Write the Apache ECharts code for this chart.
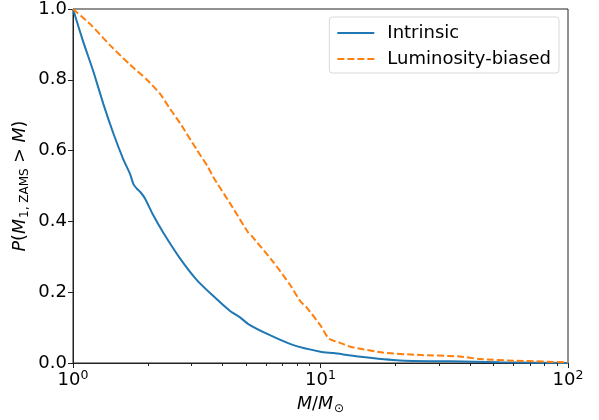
<!DOCTYPE html>
<html>
<head>
<meta charset="utf-8">
<script src="https://cdn.jsdelivr.net/npm/echarts@6/dist/echarts.min.js"></script>
<style>
  html, body { margin: 0; padding: 0; background: #fff; }
  #chartmain { width: 599px; height: 420px; }
</style>
</head>
<body>
<div id="chartmain"></div>
<script>
{
    // 曲线数据 [M, P]
    const intrinsic = [
        [1, 1.0], [1.10, 0.907], [1.208, 0.824], [1.326, 0.732], [1.455, 0.649],
        [1.597, 0.575], [1.70, 0.534], [1.753, 0.506], [1.81, 0.4925], [1.87, 0.483],
        [1.954, 0.465], [2.10, 0.42], [2.317, 0.368], [2.71, 0.295], [3.16, 0.235],
        [3.69, 0.189], [4.31, 0.147], [4.73, 0.129], [5.11, 0.11], [6.06, 0.083],
        [7.77, 0.0506], [10, 0.032], [11.3, 0.028], [14.2, 0.0185], [20.9, 0.0073],
        [33.4, 0.0046], [53, 0.002], [100, 0.0]
    ];
    const luminosityBiased = [
        [1, 1.0], [1.171, 0.958], [1.41, 0.898], [1.70, 0.8425], [1.985, 0.801],
        [2.25, 0.76], [2.466, 0.718], [2.71, 0.677], [3.16, 0.603], [3.52, 0.5525],
        [3.69, 0.525], [4.31, 0.451], [5.11, 0.368], [5.27, 0.359], [6.45, 0.285],
        [7.53, 0.221], [8.28, 0.175], [8.80, 0.1565], [10, 0.106], [10.8, 0.069],
        [12.0, 0.057], [13.2, 0.046], [17.9, 0.0295], [24.5, 0.023], [36.6, 0.0185],
        [44, 0.011], [62, 0.0064], [100, 0.002]
    ];
    const seriesNames = ['Intrinsic', 'Luminosity-biased'];
    const majorTicks = [1, 10, 100];
    const minorTicks = [2, 3, 4, 5, 6, 7, 8, 9, 20, 30, 40, 50, 60, 70, 80, 90];

    const FONT = 'DejaVu Sans';
    const ink = '#000';

    const chart = echarts.init(document.getElementById('chartmain'));

    const mathRich = {
        i: { fontFamily: FONT, fontStyle: 'italic', fontSize: 17.5, color: ink },
        n: { fontFamily: FONT, fontSize: 17.5, color: ink },
        sub: { fontFamily: FONT, fontSize: 12, color: ink, padding: [9, 0, 0, 1] }
    };

    const option = {
        animation: false,
        grid: {
            left: 73, right: 31, top: 8, bottom: 50,
            show: true,
            borderColor: '#222',
            borderWidth: 1,
            containLabel: false
        },
        legend: {
            orient: 'vertical',
            right: 40,
            top: 17,
            padding: [7, 8, 5, 7],
            itemWidth: 37,
            itemHeight: 12,
            itemGap: 8,
            borderColor: '#d8d8d8',
            borderWidth: 1,
            borderRadius: 3,
            itemStyle: { opacity: 0 },
            textStyle: { fontFamily: FONT, fontSize: 18, color: ink, padding: [0, 0, 0, 8] },
            data: seriesNames
        },
        xAxis: {
            type: 'log',
            logBase: 10,
            min: 1,
            max: 100,
            name: '{i|M}{n|/}{i|M}{sub|⊙}',
            nameLocation: 'middle',
            nameGap: 31,
            nameTextStyle: { rich: mathRich },
            axisLine: { show: true, lineStyle: { color: '#222', width: 1 } },
            axisTick: { show: true, inside: false, length: 5, lineStyle: { color: '#222' },
                customValues: majorTicks },
            axisLabel: {
                customValues: majorTicks,
                margin: 6,
                formatter: function (v) {
                    return '{b|10}{s|' + Math.round(Math.log10(v)) + '}';
                },
                rich: {
                    b: { fontFamily: FONT, fontSize: 18, color: ink },
                    s: { fontFamily: FONT, fontSize: 12.5, color: ink, padding: [0, 0, 10, 0] }
                }
            },
            splitLine: { show: false }
        },
        yAxis: {
            type: 'value',
            min: 0,
            max: 1,
            interval: 0.2,
            name: '{i|P}{n|(}{i|M}{sub|1, ZAMS}{n| > }{i|M}{n|)}',
            nameLocation: 'middle',
            nameRotate: 90,
            nameGap: 42,
            nameMoveOverlap: false,
            nameTextStyle: { rich: mathRich },
            axisLine: { show: true, lineStyle: { color: '#222', width: 1 } },
            axisTick: { show: true, length: 5, lineStyle: { color: '#222' } },
            axisLabel: {
                margin: 6,
                fontFamily: FONT,
                fontSize: 18,
                color: ink,
                formatter: function (v) { return v.toFixed(1); }
            },
            splitLine: { show: false }
        },
        series: [
            {
                name: seriesNames[0],
                type: 'line',
                data: intrinsic,
                symbol: 'none',
                smooth: 0.2,
                lineStyle: { color: '#1f77b4', width: 2 },
                itemStyle: { color: '#1f77b4' }
            },
            {
                name: seriesNames[1],
                type: 'line',
                data: luminosityBiased,
                symbol: 'none',
                smooth: 0.2,
                lineStyle: { color: '#ff7f0e', width: 2, type: [7, 3] },
                itemStyle: { color: '#ff7f0e' }
            },
            {
                // 对数轴次刻度
                type: 'custom',
                silent: true,
                clip: false,
                z: 10,
                data: minorTicks.map(function (v) { return [v, 0]; }),
                renderItem: function (params, api) {
                    const p = api.coord([api.value(0), 0]);
                    const x = Math.round(p[0]) + 0.5;
                    return {
                        type: 'line',
                        shape: { x1: x, y1: p[1], x2: x, y2: p[1] + 3 },
                        style: { stroke: '#222', lineWidth: 1 }
                    };
                }
            }
        ]
    };

    chart.setOption(option);
    window.addEventListener('resize', function () {
        chart.resize();
    });
}
</script>
</body>
</html>
